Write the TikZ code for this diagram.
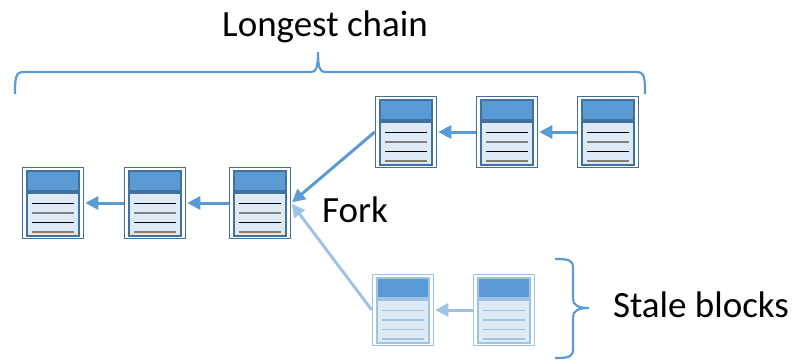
\documentclass[tikz,border=0pt]{standalone}
\usepackage{fontspec}
\setmainfont{Carlito}
\usetikzlibrary{arrows.meta}
\definecolor{acc}{HTML}{5B9BD5}
\definecolor{bdr}{HTML}{41719C}
\definecolor{lowf}{HTML}{DEEBF7}
\definecolor{lite}{HTML}{9DC3E6}
\definecolor{gline}{HTML}{7F7F7F}
\newcommand\blkinside[6]{%
  \begin{scope}[shift={(path picture bounding box.center)}]
    \draw[draw=#2, fill=#1, line width=1.2pt] (-26,-32) rectangle (26,-12);
    \draw[draw=#4, fill=#3, line width=1.2pt] (-26,-10) rectangle (26,33);
    \draw[draw=#5, line width=1pt] (-21,0) -- (21,0);
    \draw[draw=#6, line width=1.3pt] (-21,10) -- (21,10);
    \draw[draw=#5, line width=1pt] (-21,19) -- (21,19);
    \draw[draw=#6, line width=1.3pt] (-21,29) -- (21,29);
  \end{scope}}
\begin{document}
\begin{tikzpicture}[x=1pt,y=-1pt,
  blk/.style={draw=bdr, line width=1.5pt, fill=white, minimum width=61pt, minimum height=71pt, inner sep=0pt,
    path picture={\blkinside{acc}{bdr}{lowf}{bdr}{black}{gline}}},
  stale/.style={draw=lite, line width=1.5pt, fill=white, minimum width=61pt, minimum height=71pt, inner sep=0pt,
    path picture={\blkinside{acc}{lite}{lowf}{lite}{lite}{lite}}},
  arr/.style={draw=acc, line width=3pt, -{Triangle[length=13pt,width=13pt]}, shorten >=1pt},
  larr/.style={draw=lite, line width=3pt, -{Triangle[length=13pt,width=13pt]}, shorten >=1pt},
  brace/.style={draw=acc, line width=2.2pt},
  lbl/.style={font=\fontsize{37}{40}\selectfont, inner sep=0pt, anchor=base, text=black}]
\useasboundingbox (0,0) rectangle (794,361);
% blocks
\node[blk] (b1) at (53,203) {};
\node[blk] (b2) at (155,203) {};
\node[blk] (b3) at (260,203) {};
\node[blk] (b4) at (406,132) {};
\node[blk] (b5) at (507,132) {};
\node[blk] (b6) at (608,132) {};
\node[stale] (s1) at (403,310) {};
\node[stale] (s2) at (504,310) {};
% connectors
\draw[larr] (s2.west) -- (s1.east);
\draw[larr] (s1.west) -- (b3.east);
\draw[arr] (b2.west) -- (b1.east);
\draw[arr] (b3.west) -- (b2.east);
\draw[arr] (b4.west) -- (b3.east);
\draw[arr] (b5.west) -- (b4.east);
\draw[arr] (b6.west) -- (b5.east);
% braces
\draw[brace] (15,94) .. controls (15,76) and (16,72) .. (24,72) -- (311,72)
  .. controls (316,72) and (318,68) .. (318,52)
  .. controls (318,68) and (320,72) .. (325,72) -- (636,72)
  .. controls (644,72) and (645,76) .. (645,94);
\draw[brace] (555,259) .. controls (569,259) and (573,260) .. (573,268) -- (573,299)
  .. controls (573,305) and (578,308) .. (589,308)
  .. controls (578,308) and (573,311) .. (573,317) -- (573,349)
  .. controls (573,357) and (569,358) .. (555,358);
% labels
\node[lbl] (lc) at (325,37) {Longest chain};
\node[lbl] (fk) at (355,222) {Fork};
\node[lbl] (sb) at (701,317) {Stale blocks};
\end{tikzpicture}
\end{document}
